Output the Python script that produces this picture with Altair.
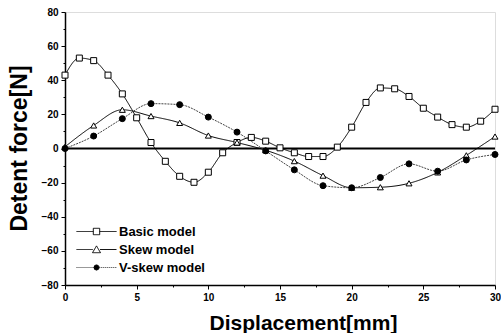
import altair as alt
import pandas as pd

basic_x = list(range(0, 31))
basic_y = [43, 53, 51.5, 43, 32, 18, 3.5, -7.5, -16.3, -19.8, -13.9, -2.5, 3.5,
           6.5, 4.3, 0.4, -2.5, -4.7, -4.7, 0.8, 12.5, 27, 35.5, 35, 30.5, 23.6,
           18.4, 14, 12.5, 16, 23]
skew_x = list(range(0, 31, 2))
skew_y = [1, 13.5, 22.7, 19, 15, 7.6, 3.5, -1, -7.4, -15.9, -23, -22.7, -20.4,
          -14, -4, 7]
vskew_x = list(range(0, 31, 2))
vskew_y = [0, 7.3, 17.5, 26.3, 25.7, 18.4, 9.6, -1.4, -12.5, -21.8, -23, -17,
           -9, -13.3, -6.7, -3.5]

models = ["Basic model", "Skew model", "V-skew model"]
x_ticks = [0, 2.5, 5, 7.5, 10, 12.5, 15, 17.5, 20, 22.5, 25, 27.5, 30]
y_ticks = [-80, -70, -60, -50, -40, -30, -20, -10, 0, 10, 20, 30, 40, 50,
           60, 70, 80]

rows = []
for m, xs, ys in [(models[0], basic_x, basic_y), (models[1], skew_x, skew_y),
                  (models[2], vskew_x, vskew_y)]:
    for xv, yv in zip(xs, ys):
        rows.append({"model": m, "x": xv, "y": yv})
df = pd.DataFrame(rows)

FONT = "Liberation Sans"

x_axis = alt.Axis(values=x_ticks, title="Displacement[mm]",
                  labelExpr="datum.value % 5 === 0 ? datum.label : ''",
                  tickSize={"condition": {"test": "datum.value % 5 === 0",
                                          "value": 4}, "value": 2},
                  titleFontSize=21, titleFontWeight="bold",
                  titleX=238, titleY=38, titleBaseline="middle",
                  labelFontSize=10, labelFontWeight="bold",
                  labelPadding=3, grid=False,
                  labelOverlap=False,
                  domainColor="black", domainWidth=1.5,
                  tickColor="black", labelColor="black",
                  titleColor="black", labelFlush=False)
y_axis = alt.Axis(values=y_ticks, title="Detent force[N]",
                  labelExpr="datum.value % 20 === 0 ? datum.label : ''",
                  tickSize={"condition": {"test": "datum.value % 20 === 0",
                                          "value": 4}, "value": 2},
                  titleFontSize=23, titleFontWeight="bold",
                  titleX=-46, titleY=136, titleBaseline="middle",
                  labelFontSize=10, labelFontWeight="bold",
                  labelPadding=3, grid=False,
                  labelOverlap=False,
                  domainColor="black", domainWidth=1.5,
                  tickColor="black", labelColor="black",
                  titleColor="black")
x_scale = alt.Scale(domain=[0, 30], nice=False)
y_scale = alt.Scale(domain=[-80, 80], nice=False)


def xe():
    return alt.X("x:Q", scale=x_scale, axis=x_axis)


def ye():
    return alt.Y("y:Q", scale=y_scale, axis=y_axis)


lines = alt.Chart(df).mark_line(strokeWidth=1, interpolate="monotone").encode(
    x=xe(), y=ye(),
    detail="model:N",
    color=alt.Color("model:N", scale=alt.Scale(domain=models,
                    range=["black", "black", "#444444"]), legend=None),
    strokeDash=alt.StrokeDash("model:N", scale=alt.Scale(domain=models,
                              range=[[1, 0], [1, 0], [2, 1]]), legend=None),
)

zero = alt.Chart(pd.DataFrame({"y": [0]})).mark_rule(
    color="black", strokeWidth=2).encode(y=ye())

points = alt.Chart(df).mark_point(opacity=1, stroke="black", strokeWidth=1,
                                  size=36).encode(
    x=xe(), y=ye(),
    shape=alt.Shape("model:N", scale=alt.Scale(domain=models,
                    range=["square", "triangle-up", "circle"]), legend=None),
    fill=alt.Fill("model:N", scale=alt.Scale(domain=models,
                  range=["white", "white", "black"]), legend=None),
)

sq = "M-2.5,0H-0.4M0.4,0H2.5M-0.4,-0.4H0.4V0.4H-0.4Z"
tri = "M-2.5,0H-0.45M0.45,0H2.5M0,-0.45L0.5,0.4L-0.5,0.4Z"
cir = "M-2.5,0H-0.35M0.35,0H2.5M0.35,0A0.35,0.35 0 1,1 -0.35,0A0.35,0.35 0 1,1 0.35,0Z"


def leg():
    return alt.Legend(title=None, orient="none", legendX=23, legendY=211,
                      symbolSize=256, labelFontSize=13,
                      labelFontWeight="bold", labelFont=FONT,
                      labelColor="black", labelOffset=14, rowPadding=2,
                      symbolStrokeWidth=1, padding=0, symbolOpacity=1)


legend_layer = alt.Chart(df).transform_filter("false").mark_point(
    opacity=1, strokeWidth=1, size=256).encode(
    x=xe(), y=ye(),
    shape=alt.Shape("model:N", scale=alt.Scale(domain=models,
                    range=[sq, tri, cir]), legend=leg()),
    fill=alt.Fill("model:N", scale=alt.Scale(domain=models,
                  range=["white", "white", "black"]), legend=leg()),
    stroke=alt.Stroke("model:N", scale=alt.Scale(domain=models,
                      range=["black", "black", "#333333"]), legend=leg()),
    strokeDash=alt.StrokeDash("model:N", scale=alt.Scale(domain=models,
                              range=[[1, 0], [1, 0], [1, 1]]), legend=leg()),
)

chart = alt.layer(zero, lines, points, legend_layer).resolve_scale(
    shape="independent", fill="independent", strokeDash="independent",
    stroke="independent"
).properties(
    width=430, height=273,
    autosize=alt.AutoSizeParams(type="none"),
    padding={"left": 65, "top": 12, "right": 6, "bottom": 48},
    background="white",
).configure_view(stroke="black", strokeWidth=1).configure(
    font=FONT
)

chart.save("out.html", embed_options={"renderer": "svg", "actions": False})
